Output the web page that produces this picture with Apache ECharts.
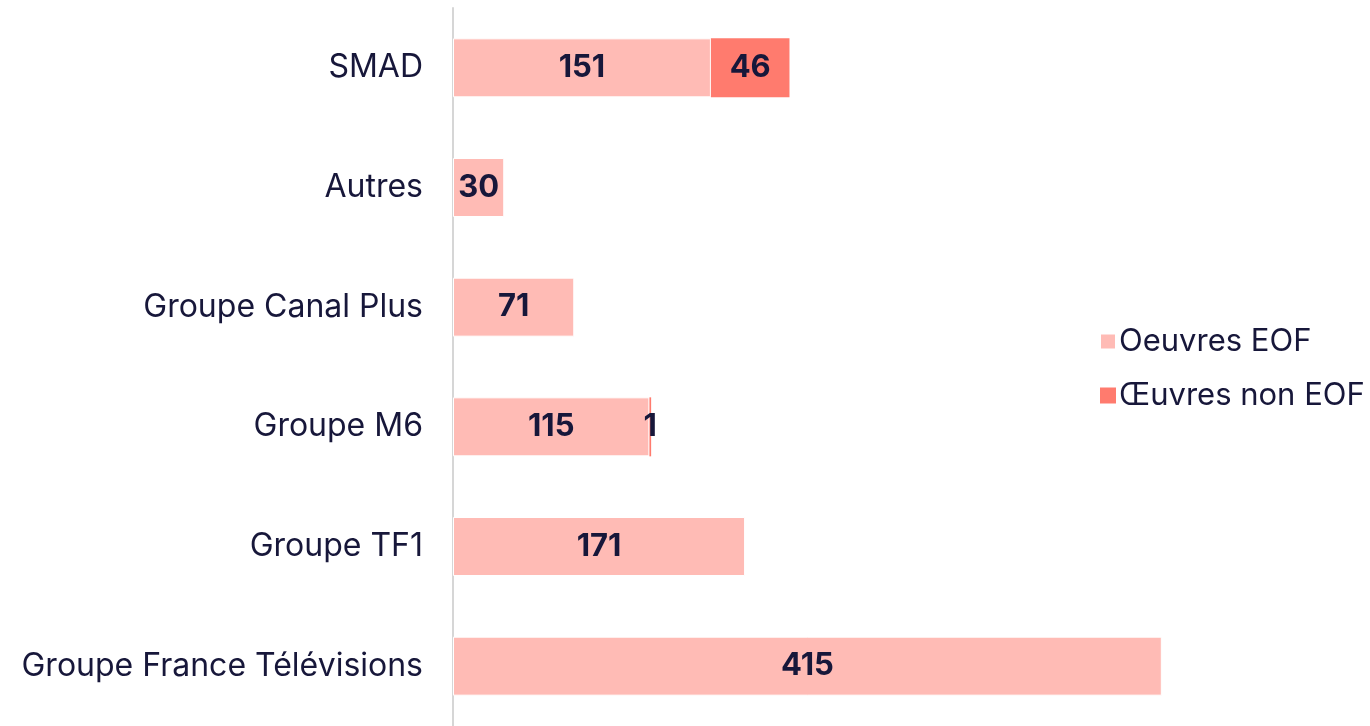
<!DOCTYPE html>
<html>
<head>
<meta charset="utf-8">
<script src="https://cdn.jsdelivr.net/npm/echarts@6/dist/echarts.min.js"></script>
<style>
  html, body { margin: 0; padding: 0; background: #fff; }
  #chart { width: 1370px; height: 726px; }
</style>
</head>
<body>
<div id="chart"></div>
<script>
  // categories from bottom to top (as drawn by a category yAxis)
  var categories = ['Groupe France Télévisions', 'Groupe TF1', 'Groupe M6', 'Groupe Canal Plus', 'Autres', 'SMAD'];
  var oeuvresEof = [415, 171, 115, 71, 30, 151];
  var oeuvresNonEof = [null, null, 1, null, null, 46];

  var ink = '#17173a';
  var chart = echarts.init(document.getElementById('chart'));
  var option = {
    animation: false,
    textStyle: { fontFamily: 'Inter, Lato, sans-serif' },
    grid: {
      left: 453,
      right: 63,
      top: 8,
      bottom: -4
    },
    legend: {
      orient: 'vertical',
      left: 1094,
      top: 321,
      itemWidth: 16,
      itemHeight: 16,
      itemGap: 23,
      icon: 'rect',
      textStyle: { color: ink, fontSize: 31, padding: [0, 0, 0, -2] },
      data: ['Oeuvres EOF', 'Œuvres non EOF']
    },
    xAxis: {
      type: 'value',
      min: 0,
      max: 500,
      show: false
    },
    yAxis: {
      type: 'category',
      data: categories,
      axisTick: { show: false },
      axisLine: { show: true, lineStyle: { color: '#d6d6d6', width: 2 } },
      axisLabel: { color: ink, fontSize: 32, margin: 30 }
    },
    series: [
      {
        name: 'Oeuvres EOF',
        type: 'bar',
        stack: 'total',
        barWidth: 59,
        data: oeuvresEof,
        itemStyle: { color: '#ffbbb5', borderColor: '#fff', borderWidth: 1 },
        label: { show: true, position: 'inside', color: ink, fontSize: 31, fontWeight: 'bold' }
      },
      {
        name: 'Œuvres non EOF',
        type: 'bar',
        stack: 'total',
        barWidth: 59,
        data: oeuvresNonEof,
        itemStyle: { color: '#ff7b6e' },
        label: { show: true, position: 'inside', color: ink, fontSize: 31, fontWeight: 'bold' }
      }
    ]
  };
  chart.setOption(option);
</script>
</body>
</html>
